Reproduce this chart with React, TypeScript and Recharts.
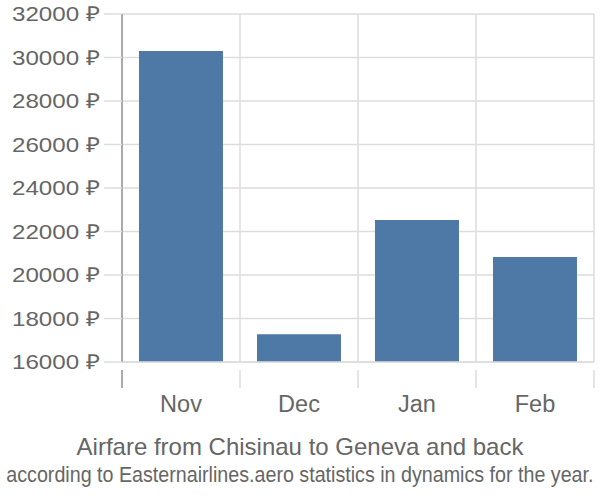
import React from "react";
import { BarChart, Bar, XAxis, YAxis, CartesianGrid } from "recharts";

const months = ["Nov", "Dec", "Jan", "Feb"];
const prices = [30300, 17280, 22530, 20830];
const yTicks = [16000, 18000, 20000, 22000, 24000, 26000, 28000, 30000, 32000];

const data = months.map((m, i) => ({ month: m, price: prices[i] }));

const CHART_W = 600;
const CHART_H = 420;
const MARGIN = { top: 14, right: 6, left: 0, bottom: 20 };
const Y_AXIS_W = 122;
const PLOT_W = CHART_W - MARGIN.left - MARGIN.right - Y_AXIS_W;
const BAND = PLOT_W / months.length;

const font = "'Liberation Sans', Arial, sans-serif";
const textColor = "#666";
const gridColor = "#dddddd";
const axisColor = "#aaaaaa";

// category ticks: label in the middle, separator lines on the band edges
const MonthTick = (props: any) => {
  const { x, y, payload, index } = props;
  const left = x - BAND / 2;
  const right = x + BAND / 2;
  return (
    <g>
      <line
        x1={left}
        x2={left}
        y1={y}
        y2={y + 18}
        stroke={index === 0 ? axisColor : gridColor}
        strokeWidth={index === 0 ? 2 : 1.5}
      />
      {index === months.length - 1 && (
        <line x1={right} x2={right} y1={y} y2={y + 18} stroke={gridColor} strokeWidth={1.5} />
      )}
      <text
        x={x}
        y={y + 42}
        textAnchor="middle"
        fill={textColor}
        fontSize={23.5}
        fontFamily={font}
      >
        {payload.value}
      </text>
    </g>
  );
};

const PriceTick = (props: any) => {
  const { x, y, payload } = props;
  return (
    <text
      x={x}
      y={y}
      dy="0.36em"
      textAnchor="end"
      fill={textColor}
      fontSize={20.5}
      fontFamily={font}
      textLength={88}
      lengthAdjust="spacingAndGlyphs"
    >
      {`${payload.value} ₽`}
    </text>
  );
};

export default function App() {
  return (
    <div
      style={{
        position: "fixed",
        left: 0,
        top: 0,
        width: CHART_W,
        height: 500,
        background: "#fff",
        fontFamily: font,
        color: textColor,
      }}
    >
      <BarChart width={CHART_W} height={CHART_H} data={data} margin={MARGIN} barCategoryGap="14.4%">
        <CartesianGrid
          stroke={gridColor}
          strokeWidth={1.5}
          verticalCoordinatesGenerator={({ offset }: any) =>
            months.map((_, i) => offset.left + BAND * i).concat(offset.left + offset.width)
          }
        />
        <XAxis
          dataKey="month"
          height={38}
          tickLine={false}
          axisLine={{ stroke: gridColor, strokeWidth: 1.5 }}
          tick={<MonthTick />}
          interval={0}
        />
        <YAxis
          width={Y_AXIS_W}
          domain={[16000, 32000]}
          ticks={yTicks}
          tickSize={18}
          tickMargin={4}
          tickLine={{ stroke: gridColor, strokeWidth: 1.5 }}
          axisLine={{ stroke: axisColor, strokeWidth: 2 }}
          tick={<PriceTick />}
        />
        <Bar dataKey="price" fill="#4e79a7" isAnimationActive={false} />
      </BarChart>
      <div
        style={{
          position: "absolute",
          top: 433,
          left: 0,
          width: CHART_W,
          textAlign: "center",
          fontSize: 24,
          lineHeight: "27px",
          whiteSpace: "nowrap",
        }}
      >
        Airfare from Chisinau to Geneva and back
      </div>
      <div
        style={{
          position: "absolute",
          top: 463,
          left: 0,
          width: CHART_W,
          display: "flex",
          justifyContent: "center",
          fontSize: 21.5,
          lineHeight: "24px",
          whiteSpace: "nowrap",
        }}
      >
        <span style={{ display: "inline-block", transform: "scaleX(0.915)", transformOrigin: "center" }}>
          according to Easternairlines.aero statistics in dynamics for the year.
        </span>
      </div>
    </div>
  );
}
